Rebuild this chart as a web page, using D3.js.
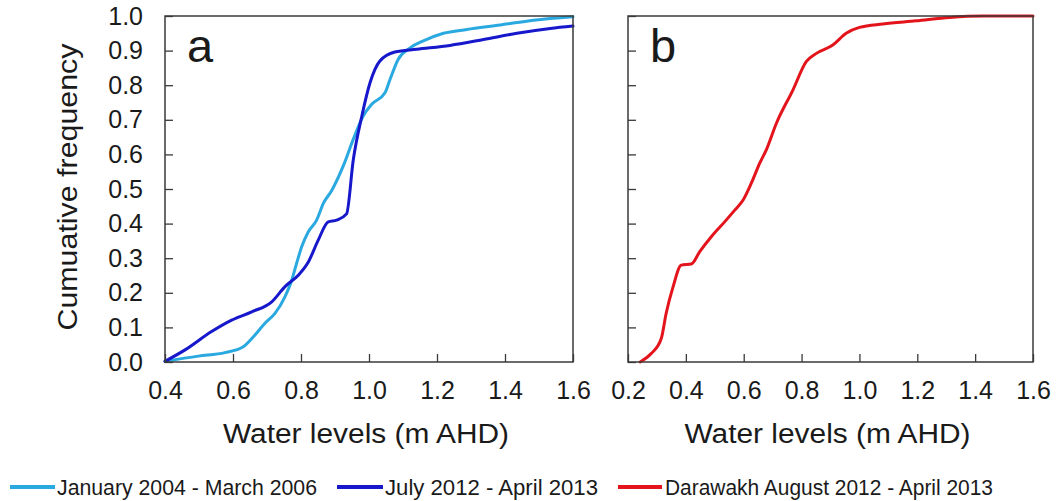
<!DOCTYPE html>
<html><head><meta charset="utf-8">
<script src="https://cdn.jsdelivr.net/npm/d3@7"></script>
<style>body{margin:0;background:#fff}svg{display:block}text{font-family:"Liberation Sans",Arial,sans-serif;fill:#1a1a1a}</style>
</head><body><svg id="c" width="1057" height="501"></svg>
<script>
// Panel a — January 2004 - March 2006 (light blue)
const janX = [0.40,0.498,0.576,0.630,0.660,0.694,0.724,0.753,0.773,0.787,0.802,0.822,0.846,0.866,0.890,0.924,0.954,0.983,1.008,1.047,1.062,1.086,1.121,1.160,1.219,1.288,1.386,1.484,1.60];
const janY = [0.002,0.017,0.027,0.044,0.073,0.112,0.141,0.189,0.237,0.285,0.333,0.377,0.410,0.459,0.495,0.566,0.644,0.711,0.745,0.778,0.817,0.875,0.908,0.928,0.950,0.961,0.974,0.988,0.998];
// Panel a — July 2012 - April 2013 (dark blue)
const julX = [0.40,0.459,0.537,0.596,0.655,0.714,0.753,0.792,0.822,0.851,0.880,0.905,0.934,0.954,0.979,1.003,1.032,1.076,1.140,1.238,1.337,1.435,1.533,1.60];
const julY = [0.002,0.035,0.088,0.121,0.145,0.174,0.218,0.251,0.290,0.353,0.405,0.410,0.428,0.586,0.711,0.807,0.870,0.896,0.904,0.915,0.932,0.950,0.964,0.971];
// Panel b — Darawakh August 2012 - April 2013 (red)
const darX = [0.242,0.281,0.315,0.332,0.356,0.384,0.419,0.448,0.488,0.534,0.569,0.598,0.626,0.655,0.678,0.713,0.770,0.816,0.851,0.908,0.954,1.0,1.081,1.196,1.312,1.427,1.60];
const darY = [0.0,0.025,0.068,0.141,0.218,0.280,0.283,0.319,0.362,0.405,0.439,0.468,0.516,0.574,0.613,0.690,0.786,0.868,0.892,0.916,0.950,0.967,0.977,0.986,0.996,1.0,1.0];

const yTicks = [0,0.1,0.2,0.3,0.4,0.5,0.6,0.7,0.8,0.9,1.0];
const xTicksA = [0.4,0.6,0.8,1.0,1.2,1.4,1.6];
const xTicksB = [0.2,0.4,0.6,0.8,1.0,1.2,1.4,1.6];
const legendLabels = ["January 2004 - March 2006","July 2012 - April 2013","Darawakh August 2012 - April 2013"];
const colors = ["#2aa9e0","#1717cc","#e3141c"];
const yLabel = "Cumuative frequency";
const xLabel = "Water levels (m AHD)";

const svg = d3.select("#c");
const plotTop = 16, plotBottom = 362;
const y = d3.scaleLinear().domain([0,1]).range([plotBottom, plotTop]);

function panel(left, right, xDomain, xTicks, series, letter, showY){
  const x = d3.scaleLinear().domain(xDomain).range([left, right]);
  const g = svg.append("g");
  const line = d3.line().x(d=>x(d[0])).y(d=>y(d[1])).curve(d3.curveMonotoneX);
  series.forEach(s=>{
    const pts = s.xs.map((v,i)=>[v, s.ys[i]]);
    g.append("path").attr("d", line(pts)).attr("fill","none")
      .attr("stroke", s.color).attr("stroke-width",3).attr("stroke-linejoin","round").attr("stroke-linecap","round");
  });
  g.append("rect").attr("x",left).attr("y",plotTop).attr("width",right-left).attr("height",plotBottom-plotTop)
    .attr("fill","none").attr("stroke","#3a3a3a").attr("stroke-width",1.5);
  const ax = g.append("g").attr("transform",`translate(0,${plotBottom})`)
    .call(d3.axisBottom(x).tickValues(xTicks).tickSizeInner(-8).tickSizeOuter(0).tickPadding(19).tickFormat(d3.format(".1f")));
  ax.select(".domain").remove();
  ax.selectAll("line").attr("stroke","#3a3a3a").attr("stroke-width",1.3);
  ax.selectAll("text").attr("font-size",25).attr("font-family","Liberation Sans, Arial, sans-serif").attr("fill","#1a1a1a");
  const ay = g.append("g").attr("transform",`translate(${left},0)`)
    .call(d3.axisLeft(y).tickValues(yTicks).tickSizeInner(-8).tickSizeOuter(0).tickPadding(showY?22:0).tickFormat(showY?d3.format(".1f"):()=>""));
  ay.select(".domain").remove();
  ay.selectAll("line").attr("stroke","#3a3a3a").attr("stroke-width",1.3);
  ay.selectAll("text").attr("font-size",25).attr("font-family","Liberation Sans, Arial, sans-serif").attr("fill","#1a1a1a");
  g.append("text").attr("x",(left+right)/2 - 3).attr("y",443).attr("text-anchor","middle")
    .attr("font-size",27).attr("textLength",286).attr("lengthAdjust","spacingAndGlyphs").text(xLabel);
  g.append("text").attr("x",left+22).attr("y",62).attr("font-size",47).text(letter);
}

panel(165, 573, [0.4,1.6], xTicksA, [
  {xs: janX, ys: janY, color: colors[0]},
  {xs: julX, ys: julY, color: colors[1]}
], "a", true);
panel(628, 1033, [0.2,1.6], xTicksB, [
  {xs: darX, ys: darY, color: colors[2]}
], "b", false);

svg.append("text").attr("transform","translate(77,187) rotate(-90)").attr("text-anchor","middle")
  .attr("font-size",27).attr("textLength",287).attr("lengthAdjust","spacingAndGlyphs").text(yLabel);

const legendPos = [[10,55,57,260],[337,383,385,213],[618,662,665,328]];
legendLabels.forEach((lab,i)=>{
  const p = legendPos[i];
  svg.append("line").attr("x1",p[0]).attr("x2",p[1]).attr("y1",487).attr("y2",487)
    .attr("stroke",colors[i]).attr("stroke-width",4);
  svg.append("text").attr("x",p[2]).attr("y",495).attr("font-size",22)
    .attr("textLength",p[3]).attr("lengthAdjust","spacingAndGlyphs").text(lab);
});
</script></body></html>
